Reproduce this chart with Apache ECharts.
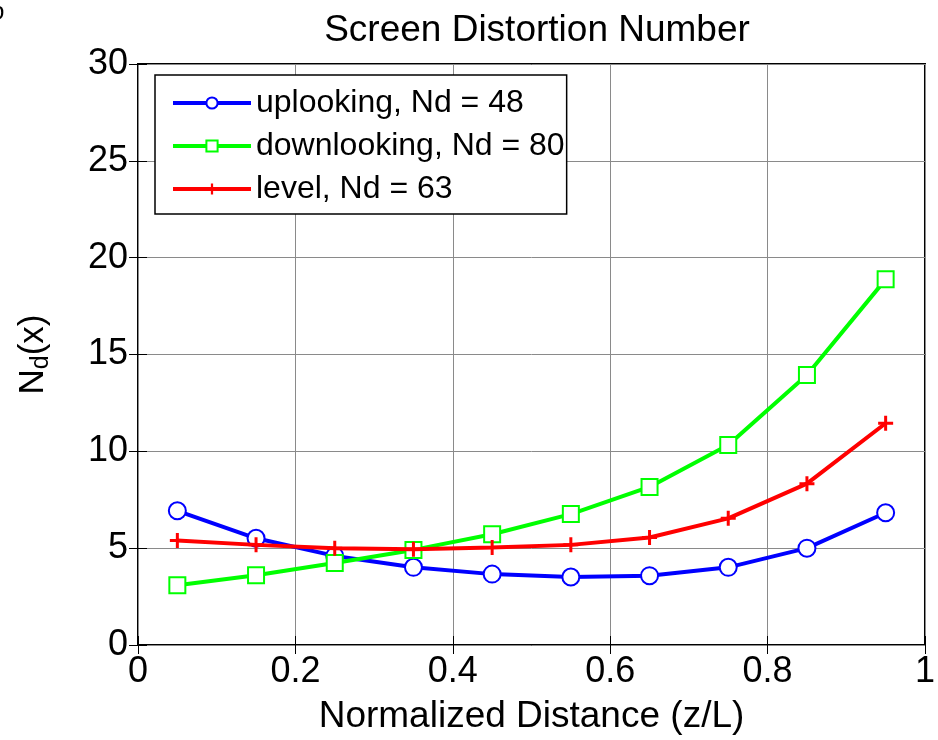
<!DOCTYPE html>
<html>
<head>
<meta charset="utf-8">
<script src="https://cdn.jsdelivr.net/npm/echarts@6/dist/echarts.min.js"></script>
<style>html,body{margin:0;padding:0;background:#fff}#c{width:938px;height:740px}</style>
</head>
<body>
<div id="c"></div>
<script>
const xValues = [0.05, 0.15, 0.25, 0.35, 0.45, 0.55, 0.65, 0.75, 0.85, 0.95];
const uplooking = [6.93, 5.51, 4.6, 4.01, 3.66, 3.51, 3.58, 4.01, 5.0, 6.83];
const downlooking = [3.09, 3.6, 4.23, 4.91, 5.72, 6.76, 8.16, 10.33, 13.94, 18.88];
const level = [5.39, 5.17, 5.0, 4.95, 5.03, 5.17, 5.55, 6.54, 8.33, 11.45];
const seriesNames = ['uplooking, Nd = 48', 'downlooking, Nd = 80', 'level, Nd = 63'];
const titleText = 'Screen Distortion Number';
const xAxisTitle = 'Normalized Distance (z/L)';

const font = 'Liberation Sans, Arial, Helvetica, sans-serif';
const plus = 'path://M4,0H6V4H10V6H6V10H4V6H0V4H4Z';
function pairs(ys){ return xValues.map((x,i)=>[x, ys[i]]); }

const tickStyle = {show: true, inside: true, length: 9, lineStyle: {color: '#000', width: 1}};
const gridLine = {show: true, lineStyle: {color: '#8a8a8a', width: 1}};

const chart = echarts.init(document.getElementById('c'), null, {renderer:'canvas'});
chart.setOption({
  animation: false,
  backgroundColor: '#fff',
  textStyle: {fontFamily: font},
  title: {
    text: titleText, left: 532, top: 7, textAlign: 'center',
    textStyle: {fontFamily: font, fontSize: 37, fontWeight: 'normal', color: '#000'}
  },
  graphic: [{
    type: 'text', left: -9, top: 0,
    style: {text: 'b', font: '24px ' + font, fill: '#000'}
  }],
  grid: {left: 138, right: 11, top: 64, bottom: 92, show: true, borderColor: '#000', borderWidth: 2, backgroundColor: 'transparent'},
  legend: {
    left: 155, top: 75, orient: 'vertical',
    backgroundColor: '#fff', borderColor: '#000', borderWidth: 1.5, borderRadius: 0,
    padding: [12, 2, 9, 16],
    itemWidth: 78, itemHeight: 14, itemGap: 11,
    lineStyle: {width: 4},
    textStyle: {fontFamily: font, fontSize: 32, color: '#000', padding: [0,0,0,0]},
    data: seriesNames
  },
  xAxis: [{
    type: 'value', min: 0, max: 1, interval: 0.2,
    name: xAxisTitle, nameLocation: 'middle', nameGap: 53,
    nameTextStyle: {fontFamily: font, fontSize: 37, color: '#000'},
    axisLine: {show: false},
    axisTick: tickStyle,
    axisLabel: {fontFamily: font, fontSize: 36, color: '#000', margin: 9, formatter: v => String(+v.toFixed(1))},
    splitLine: gridLine
  }, {
    type: 'value', min: 0, max: 1, interval: 0.2, position: 'top',
    axisLine: {show: false}, axisTick: tickStyle, axisLabel: {show: false}, splitLine: {show: false}
  }],
  yAxis: [{
    type: 'value', min: 0, max: 30, interval: 5,
    name: '{n|N}{s|d}{n|(x)}', nameLocation: 'middle', nameGap: 84, nameRotate: 90,
    nameTextStyle: {rich: {
      n: {fontFamily: font, fontSize: 35, color: '#000'},
      s: {fontFamily: font, fontSize: 25, color: '#000', verticalAlign: 'bottom', padding: [16,0,0,0]}
    }},
    axisLine: {show: false},
    axisTick: tickStyle,
    axisLabel: {fontFamily: font, fontSize: 36, color: '#000', margin: 10},
    splitLine: gridLine
  }, {
    type: 'value', min: 0, max: 30, interval: 5, position: 'right',
    axisLine: {show: false}, axisTick: tickStyle, axisLabel: {show: false}, splitLine: {show: false}
  }],
  series: [
    {name: seriesNames[0], type: 'line', data: pairs(uplooking), color: '#0000ff',
     lineStyle: {width: 4, color: '#0000ff'}, symbol: 'emptyCircle', symbolSize: 17,
     itemStyle: {color: '#0000ff', borderWidth: 3.5}, z: 3},
    {name: seriesNames[1], type: 'line', data: pairs(downlooking), color: '#00ff00',
     lineStyle: {width: 4, color: '#00ff00'}, symbol: 'emptyRect', symbolSize: 16,
     itemStyle: {color: '#00ff00', borderWidth: 3.5}, z: 4},
    {name: seriesNames[2], type: 'line', data: pairs(level), color: '#ff0000',
     lineStyle: {width: 4, color: '#ff0000'}, symbol: plus, symbolSize: 15,
     itemStyle: {color: '#ff0000'}, z: 5}
  ]
});
</script>
</body>
</html>
